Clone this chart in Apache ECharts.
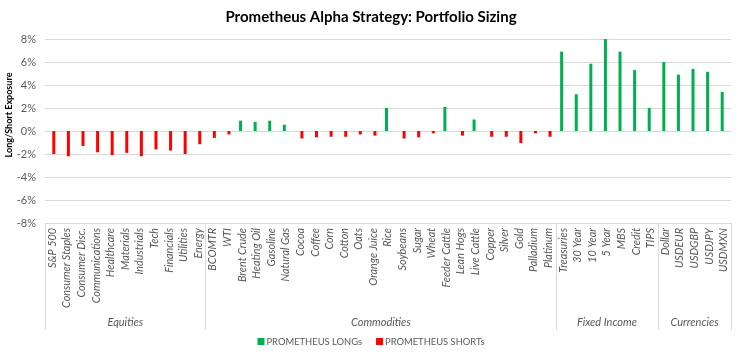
<!DOCTYPE html>
<html>
<head>
<meta charset="utf-8">
<script src="https://cdn.jsdelivr.net/npm/echarts@6/dist/echarts.min.js"></script>
<style>
html,body{margin:0;padding:0;background:#fff;}
#chart{width:742px;height:355px;}
</style>
</head>
<body>
<div id="chart"></div>
<script>
const categories = [
  'S&P 500','Consumer Staples','Consumer Disc.','Communications','Healthcare','Materials','Industrials','Tech','Financials','Utilities','Energy',
  'BCOMTR','WTI','Brent Crude','Heating Oil','Gasoline','Natural Gas','Cocoa','Coffee','Corn','Cotton','Oats','Orange Juice','Rice','Soybeans','Sugar','Wheat','Feeder Cattle','Lean Hogs','Live Cattle','Copper','Silver','Gold','Palladium','Platinum',
  'Treasuries','30 Year','10 Year','5 Year','MBS','Credit','TIPS',
  'Dollar','USDEUR','USDGBP','USDJPY','USDMXN'
];
const groupNames = ['Equities','Commodities','Fixed Income','Currencies'];
const groupSizes = [11, 24, 7, 5];
const longs = [
  null,null,null,null,null,null,null,null,null,null,null,
  null,null,0.9,0.8,0.9,0.55,null,null,null,null,null,null,2.0,null,null,null,2.1,null,1.0,null,null,null,null,null,
  6.9,3.2,5.85,8.0,6.9,5.3,2.0,
  6.0,4.9,5.4,5.15,3.4
];
const shorts = [
  -2.0,-2.2,-1.3,-1.85,-2.1,-1.9,-2.2,-1.6,-1.7,-2.0,-1.15,
  -0.6,-0.3,null,null,null,null,-0.65,-0.55,-0.5,-0.5,-0.3,-0.4,null,-0.65,-0.55,-0.2,null,-0.4,null,-0.5,-0.5,-1.05,-0.2,-0.5,
  null,null,null,null,null,null,null,
  null,null,null,null,null
];
const yTicks = [-8,-6,-4,-2,0,2,4,6,8];

// group boundaries and label positions
const boundaries = [];
const labelAt = {};
let s = 0;
groupSizes.forEach((n, gi) => {
  boundaries.push(s);
  if (n % 2 === 1) labelAt[s + (n - 1) / 2] = {name: groupNames[gi], shift: false};
  else labelAt[s + n / 2 - 1] = {name: groupNames[gi], shift: true};
  s += n;
});

const FONT = 'Lato, "Liberation Sans", sans-serif';
const chart = echarts.init(document.getElementById('chart'));
chart.setOption({
  animation: false,
  textStyle: {fontFamily: FONT},
  title: {
    text: 'Prometheus Alpha Strategy: Portfolio Sizing',
    left: 'center', top: 5,
    textStyle: {fontFamily: FONT, fontSize: 15, fontWeight: 'bold', color: '#000'}
  },
  legend: {
    bottom: 4, left: 'center',
    icon: 'rect', itemWidth: 7, itemHeight: 7, itemGap: 14,
    textStyle: {fontFamily: FONT, fontSize: 9.4, color: '#595959', padding: [0, 0, 0, -3]},
    data: ['PROMETHEUS LONGs', 'PROMETHEUS SHORTs']
  },
  graphic: [{
    type: 'text', x: 9, y: 115, rotation: Math.PI / 2,
    style: {text: 'Long/Short Exposure', fontFamily: FONT, fontSize: 9, fontWeight: 'bold', fill: '#000', align: 'center', verticalAlign: 'middle'}
  }],
  grid: {left: 45, right: 11, top: 39, bottom: 132, containLabel: false, outerBoundsMode: 'none'},
  xAxis: [
    {
      type: 'category', data: categories, position: 'bottom',
      axisLine: {show: true, onZero: false, lineStyle: {color: '#d9d9d9'}},
      axisTick: {show: false},
      axisLabel: {interval: 0, rotate: 90, margin: 5, fontSize: 10.8, fontStyle: 'italic', color: '#595959', fontFamily: FONT}
    },
    {
      type: 'category', data: categories, position: 'bottom',
      axisLine: {show: false, onZero: false},
      axisTick: {show: true, length: 107, interval: (i) => boundaries.indexOf(i) >= 0, lineStyle: {color: '#d9d9d9'}},
      axisLabel: {
        interval: (i) => labelAt[i] !== undefined,
        margin: 94, fontSize: 11, fontStyle: 'italic', color: '#595959', fontFamily: FONT,
        formatter: (v, i) => {
          const l = labelAt[i];
          if (!l) return '';
          return l.shift ? '{s|' + l.name + '}' : l.name;
        },
        rich: {s: {padding: [0, 0, 0, 15], fontSize: 11, fontStyle: 'italic', color: '#595959', fontFamily: FONT}}
      }
    }
  ],
  yAxis: {
    type: 'value', min: -8, max: 8, interval: 2,
    axisLine: {show: false}, axisTick: {show: false},
    axisLabel: {formatter: (v) => yTicks.indexOf(v) >= 0 ? v + '%' : '', fontSize: 11, color: '#595959', margin: 9, fontFamily: FONT},
    splitLine: {lineStyle: {color: '#d9d9d9'}}
  },
  series: [
    {name: 'PROMETHEUS LONGs', type: 'bar', data: longs, barWidth: 3, barGap: '0%', itemStyle: {color: '#00B050'}},
    {name: 'PROMETHEUS SHORTs', type: 'bar', data: shorts, barWidth: 3, barGap: '0%', itemStyle: {color: '#FF0000'}}
  ]
});
</script>
</body>
</html>
